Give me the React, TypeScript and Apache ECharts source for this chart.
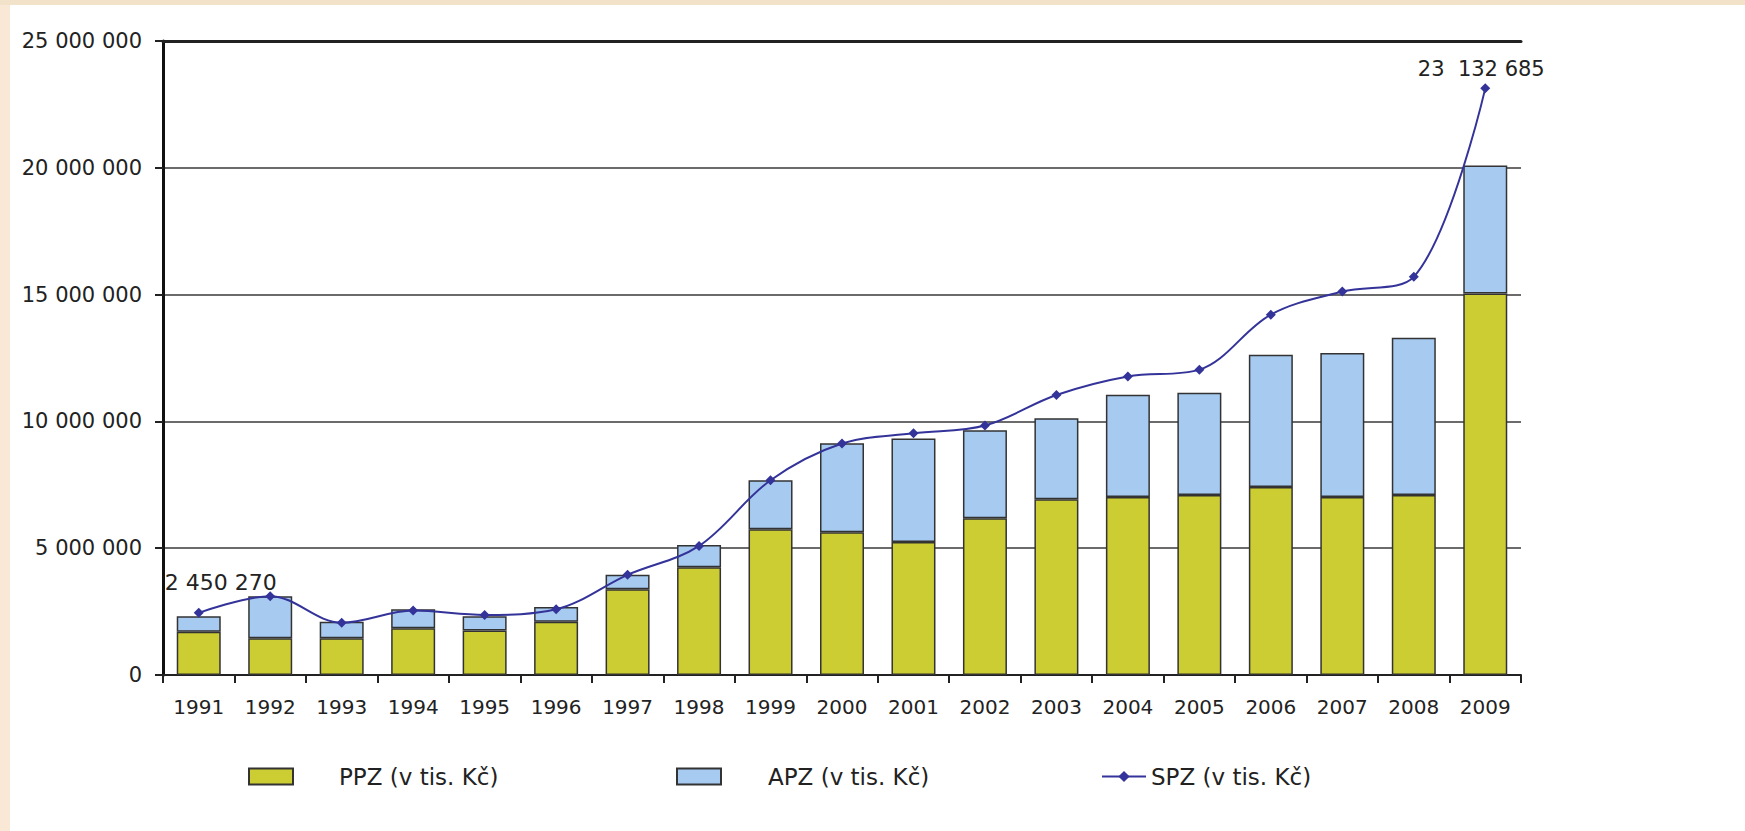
import React, { useEffect, useRef } from "react";
import * as echarts from "echarts";

const years = ["1991","1992","1993","1994","1995","1996","1997","1998","1999","2000","2001","2002","2003","2004","2005","2006","2007","2008","2009"];
const ppz = [1710000,1450000,1450000,1840000,1750000,2100000,3380000,4250000,5750000,5630000,5240000,6180000,6930000,7020000,7100000,7410000,7020000,7100000,15040000];
const totals = [2320000,3110000,2100000,2590000,2320000,2680000,3950000,5130000,7680000,9140000,9330000,9650000,10120000,11050000,11130000,12630000,12700000,13300000,20090000];
const spz = [2450270,3110000,2060000,2540000,2370000,2590000,3950000,5090000,7680000,9130000,9530000,9840000,11040000,11770000,12040000,14210000,15120000,15700000,23132685];
const apz = totals.map((t, i) => t - ppz[i]);
const seriesNames = ["PPZ (v tis. Kč)", "APZ (v tis. Kč)", "SPZ (v tis. Kč)"];
const yTicks = { min: 0, max: 25000000, interval: 5000000 };

const fmt = (v: number) => String(Math.round(v)).replace(/\B(?=(\d{3})+(?!\d))/g, " ");
const FONT = "DejaVu Sans";

export default function App() {
  const ref = useRef<HTMLDivElement>(null);
  useEffect(() => {
    if (!ref.current) return;
    const chart = echarts.init(ref.current, null, { renderer: "svg" });
    const lastIdx = spz.length - 1;
    chart.setOption({
      animation: false,
      backgroundColor: "#ffffff",
      textStyle: { fontFamily: FONT, color: "#222" },
      graphic: [
        { type: "rect", z: -10, shape: { x: 0, y: 0, width: 10, height: 831 }, style: { fill: "#f9e8d6" }, silent: true },
        { type: "rect", z: -10, shape: { x: 0, y: 0, width: 1745, height: 5 }, style: { fill: "#f3e2ca" }, silent: true },
      ],
      grid: { left: 163, right: 224, top: 41, bottom: 156, containLabel: false },
      legend: [
        {
          data: [seriesNames[0]], left: 243, top: 760, icon: "rect", itemWidth: 44, itemHeight: 16,
          textStyle: { fontFamily: FONT, fontSize: 23, color: "#222", padding: [0, 0, 0, 41] },
        },
        {
          data: [seriesNames[1]], left: 671, top: 760, icon: "rect", itemWidth: 44, itemHeight: 16,
          textStyle: { fontFamily: FONT, fontSize: 23, color: "#222", padding: [0, 0, 0, 42] },
        },
        {
          data: [seriesNames[2]], left: 1096, top: 760, itemWidth: 44, itemHeight: 14,
          textStyle: { fontFamily: FONT, fontSize: 23, color: "#222", padding: [0, 0, 0, 0] },
        },
      ],
      xAxis: [
        {
          type: "category", data: years, boundaryGap: true,
          axisLine: { show: true, lineStyle: { color: "#222", width: 2 } },
          axisTick: { show: true, length: 8, lineStyle: { color: "#222", width: 2 } },
          axisLabel: { fontFamily: FONT, fontSize: 20, color: "#222", margin: 22 },
        },
        {
          type: "category", data: years, position: "top",
          axisLine: { show: true, lineStyle: { color: "#222", width: 3 } },
          axisTick: { show: false }, axisLabel: { show: false },
        },
      ],
      yAxis: {
        type: "value", min: yTicks.min, max: yTicks.max, interval: yTicks.interval,
        axisLine: { show: true, lineStyle: { color: "#111", width: 3 } },
        axisTick: { show: true, length: 8, lineStyle: { color: "#222", width: 2 } },
        axisLabel: { fontFamily: FONT, fontSize: 21, color: "#222", margin: 21, formatter: (v: number) => fmt(v) },
        splitLine: { show: true, lineStyle: { color: "#3a3a3a", width: 1.6 } },
      },
      series: [
        {
          name: seriesNames[0], type: "bar", stack: "total", data: ppz, barWidth: 44,
          itemStyle: { color: "#cccc33", borderColor: "#333", borderWidth: 1.5 },
        },
        {
          name: seriesNames[1], type: "bar", stack: "total", data: apz, barWidth: 44,
          itemStyle: { color: "#a6caf0", borderColor: "#333", borderWidth: 1.5 },
        },
        {
          name: seriesNames[2], type: "line", smooth: 0.35, symbol: "diamond", symbolSize: 10,
          lineStyle: { color: "#333399", width: 2 }, itemStyle: { color: "#333399" },
          data: spz.map((v, i) => ({
            value: v,
            label: i === 0
              ? { show: true, position: "top", offset: [22, -9], formatter: () => fmt(v), fontFamily: FONT, fontSize: 22, color: "#222" }
              : i === lastIdx
              ? { show: true, position: "top", offset: [-4, 1], formatter: () => "23  132 685", fontFamily: FONT, fontSize: 21, color: "#222" }
              : { show: false },
          })),
          z: 5,
        },
      ],
    });
    return () => chart.dispose();
  }, []);
  return <div ref={ref} style={{ position: "absolute", left: 0, top: 0, width: 1745, height: 831 }} />;
}
